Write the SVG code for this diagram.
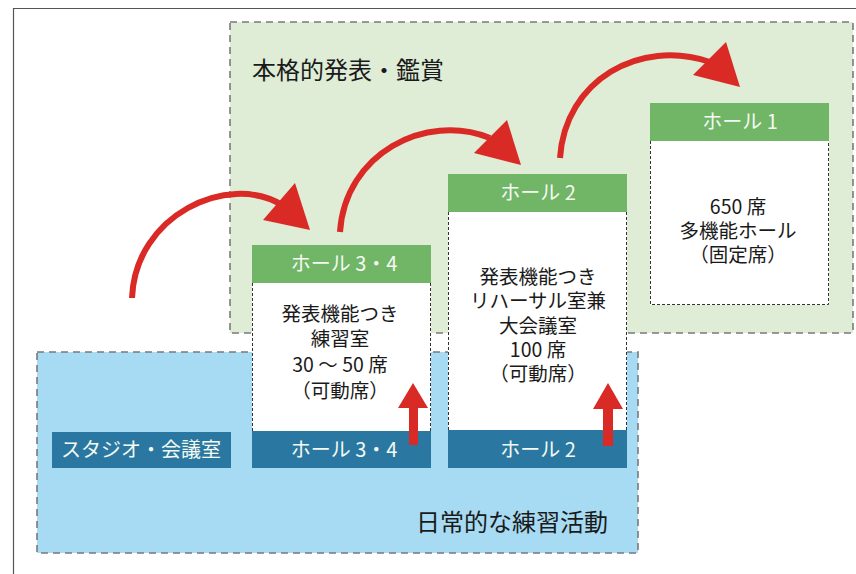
<svg xmlns="http://www.w3.org/2000/svg" width="856" height="574" viewBox="0 0 856 574">
<style>
.zone{stroke:#7a7a7a;stroke-width:1.6;stroke-dasharray:7,5}
.body{fill:#fff}
.edge{fill:none;stroke:#333;stroke-width:1;stroke-dasharray:3,2}
.hdr{fill:#71b566}
.ftr{fill:#2a78a2}
.t{font-family:"Noto Sans CJK JP","Noto Sans",sans-serif;text-anchor:middle}
.w{fill:#f4f9f2;font-size:20px}
.k{fill:#1a1a1a;font-size:19.5px}
.big{font-family:"Noto Sans CJK JP","Noto Sans",sans-serif;font-size:24px;fill:#1a1a1a}
.arc{fill:none;stroke:#d92a26;stroke-width:6}
.red{fill:#d92a26}
</style>
<rect width="856" height="574" fill="#fff"/>
<path d="M13.5,574 V8.5 H856" fill="none" stroke="#555" stroke-width="1.2"/>
<g id="zone-performance">
<rect class="zone" x="230" y="22" width="623" height="311" fill="#dfecd6"/>
<text class="big" x="252" y="79">本格的発表・鑑賞</text>
</g>
<g id="zone-practice">
<rect class="zone" x="37" y="352" width="601" height="201" fill="#a7daf3"/>
<text class="big" x="416" y="531">日常的な練習活動</text>
</g>
<g id="studio">
<rect class="ftr" x="52" y="432" width="179" height="36"/>
<text class="t w" x="141" y="457">スタジオ・会議室</text>
</g>
<g id="hall34">
<rect class="body" x="252" y="283" width="179" height="148"/>
<path class="edge" d="M252.5,283 V431 M430.5,283 V431"/>
<rect class="hdr" x="252" y="245" width="179" height="38"/>
<text class="t w" x="344" y="271">ホール 3・4</text>
<rect class="ftr" x="252" y="431" width="179" height="37"/>
<text class="t w" x="344" y="457">ホール 3・4</text>
<text class="t k" x="340" y="321">発表機能つき</text>
<text class="t k" x="340" y="346">練習室</text>
<text class="t k" x="340" y="372">30 〜 50 席</text>
<text class="t k" x="340" y="398">（可動席）</text>
</g>
<g id="hall2">
<rect class="body" x="448" y="212" width="179" height="219"/>
<path class="edge" d="M448.5,212 V431 M626.5,212 V431"/>
<rect class="hdr" x="448" y="174" width="179" height="38"/>
<text class="t w" x="538" y="200">ホール 2</text>
<rect class="ftr" x="448" y="430" width="179" height="38"/>
<text class="t w" x="538" y="457">ホール 2</text>
<text class="t k" x="538" y="284">発表機能つき</text>
<text class="t k" x="538" y="308">リハーサル室兼</text>
<text class="t k" x="538" y="333">大会議室</text>
<text class="t k" x="538" y="357">100 席</text>
<text class="t k" x="538" y="381">（可動席）</text>
</g>
<g id="hall1">
<rect class="body" x="650" y="141" width="179" height="164"/>
<path class="edge" d="M650.5,141 V304.5 H828.5 V141"/>
<rect class="hdr" x="650" y="103" width="179" height="38"/>
<text class="t w" x="740" y="129">ホール 1</text>
<text class="t k" x="738" y="214">650 席</text>
<text class="t k" x="738" y="238">多機能ホール</text>
<text class="t k" x="738" y="262">（固定席）</text>
</g>
<g id="connectors">
<path class="arc" d="M132,298 C135,215 228,172 282,205"/>
<polygon class="red" points="310,230 295,183 263,220"/>
<path class="arc" d="M340,232 C345,154 425,112 490,138"/>
<polygon class="red" points="521,165 507,120 474,153"/>
<path class="arc" d="M560,158 C565,80 640,38 710,62"/>
<polygon class="red" points="740,87 726,42 693,75"/>
<rect class="red" x="409" y="406" width="9" height="39"/>
<polygon class="red" points="413,383 428,408 398,408"/>
<rect class="red" x="603" y="406" width="10" height="40"/>
<polygon class="red" points="608,383 623,409 593,409"/>
</g>
</svg>
